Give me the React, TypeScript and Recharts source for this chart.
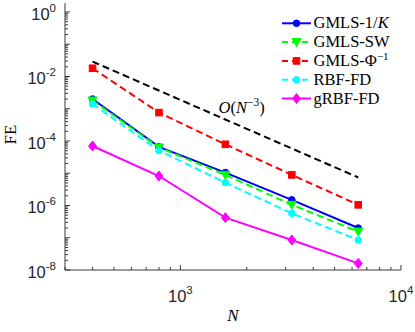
import React from "react";
import {
  LineChart,
  Line,
  XAxis,
  YAxis,
  Legend,
  ReferenceDot,
  Label,
} from "recharts";

// ---- data ----
const N = [400, 800, 1600, 3200, 6400];
const gmlsK = [2.0e-3, 6.6e-5, 1.05e-5, 1.5e-6, 2.0e-7];
const gmlsSW = [1.8e-3, 6.3e-5, 8.9e-6, 1.05e-6, 1.55e-7];
const gmlsPhi = [1.8e-2, 7.6e-4, 7.9e-5, 8.9e-6, 1.05e-6];
const rbfFD = [1.4e-3, 5.0e-5, 5.1e-6, 5.7e-7, 8.5e-8];
const grbfFD = [7.0e-5, 8.2e-6, 4.2e-7, 8.5e-8, 1.6e-8];
const refN = [400, 6400];
const refFE = [2.9e-2, 7.4e-6];

const annotN = 1490;
const annotFE = 7.4e-4;

const xMajorExp = [3, 4];
const xLabelExp = [3, 4];
const yMajorExp = [0, -1, -2, -3, -4, -5, -6, -7, -8];
const yLabelExp = [0, -2, -4, -6, -8];

const xDomain = [300, 10000];
const yDomain = [1e-8, 1.9];

const data = N.map((n, i) => {
  const r = refN.indexOf(n);
  return {
    N: n,
    k: gmlsK[i],
    sw: gmlsSW[i],
    phi: gmlsPhi[i],
    rbf: rbfFD[i],
    grbf: grbfFD[i],
    ref: r >= 0 ? refFE[r] : null,
  };
});

function logTicks(majorExps: number[], lo: number, hi: number) {
  const out: number[] = [];
  const minE = Math.min(...majorExps) - 1;
  const maxE = Math.max(...majorExps);
  for (let e = minE; e <= maxE; e++) {
    for (let m = 1; m <= 9; m++) {
      const v = m * Math.pow(10, e);
      if (v >= lo * 0.9999 && v <= hi * 1.0001) out.push(v);
    }
  }
  return out;
}
const xTicks = logTicks(xMajorExp, xDomain[0], xDomain[1]);
const yTicks = logTicks(yMajorExp, yDomain[0], yDomain[1]);

const AX = "#3a3a3a";
const TICK_FONT = "'Liberation Sans', Arial, Helvetica, sans-serif";
const SERIF = "'Liberation Serif', 'Times New Roman', serif";
const MAJOR = 5;
const MINOR = 3;

function isMajor(v: number) {
  const l = Math.log10(v);
  return Math.abs(l - Math.round(l)) < 1e-6;
}

function makeTick(side: "left" | "right" | "top" | "bottom", labels: number[]) {
  return (props: any) => {
    const { x, y, payload } = props;
    const v = payload.value;
    const maj = isMajor(v);
    const len = maj ? MAJOR : MINOR;
    const e = Math.round(Math.log10(v));
    let line;
    if (side === "left") line = <line x1={x} x2={x + len} y1={y} y2={y} stroke={AX} strokeWidth={1} />;
    else if (side === "right") line = <line x1={x} x2={x - len} y1={y} y2={y} stroke={AX} strokeWidth={1} />;
    else if (side === "bottom") line = <line x1={x} x2={x} y1={y} y2={y - len} stroke={AX} strokeWidth={1} />;
    else line = <line x1={x} x2={x} y1={y} y2={y + len} stroke={AX} strokeWidth={1} />;
    let label = null;
    if (maj && labels.indexOf(e) >= 0) {
      if (side === "left") {
        label = (
          <text x={x - 9} y={y + 8} textAnchor="end" fontFamily={TICK_FONT} fontSize={16.5} fill="#262626">
            <tspan>10</tspan>
            <tspan dy={-8} fontSize={11.5}>{String(e)}</tspan>
          </text>
        );
      } else if (side === "bottom") {
        label = (
          <text x={x} y={y + 32} textAnchor="middle" fontFamily={TICK_FONT} fontSize={16.5} fill="#262626">
            <tspan>10</tspan>
            <tspan dy={-8} fontSize={11.5}>{String(e)}</tspan>
          </text>
        );
      }
    }
    return (
      <g>
        {line}
        {label}
      </g>
    );
  };
}

type MarkerKind = "circle" | "tri" | "square" | "diamond" | "none";

function Marker({ cx, cy, kind, color }: { cx: number; cy: number; kind: MarkerKind; color: string }) {
  if (cx == null || cy == null || isNaN(cx) || isNaN(cy)) return null;
  if (kind === "circle") return <circle cx={cx} cy={cy} r={3.3} fill={color} stroke={color} strokeWidth={1} />;
  if (kind === "tri")
    return (
      <polygon
        points={`${cx - 4.5},${cy - 3.5} ${cx + 4.5},${cy - 3.5} ${cx},${cy + 4.5}`}
        fill={color}
        stroke={color}
        strokeWidth={1}
      />
    );
  if (kind === "square") return <rect x={cx - 3.3} y={cy - 3.3} width={6.6} height={6.6} fill={color} stroke={color} strokeWidth={1} />;
  if (kind === "diamond")
    return (
      <polygon
        points={`${cx},${cy - 5} ${cx + 4},${cy} ${cx},${cy + 5} ${cx - 4},${cy}`}
        fill={color}
        stroke={color}
        strokeWidth={1}
      />
    );
  return null;
}

const series = [
  { key: "k", color: "#0000ff", dash: undefined, marker: "circle" as MarkerKind },
  { key: "sw", color: "#00ff00", dash: "7 4", marker: "tri" as MarkerKind },
  { key: "phi", color: "#ff0000", dash: "7 4", marker: "square" as MarkerKind },
  { key: "rbf", color: "#00ffff", dash: "7 4", marker: "circle" as MarkerKind },
  { key: "grbf", color: "#ff00ff", dash: undefined, marker: "diamond" as MarkerKind },
];

function legendText(key: string) {
  if (key === "k")
    return (
      <>
        <tspan>GMLS-1/</tspan>
        <tspan fontStyle="italic">K</tspan>
      </>
    );
  if (key === "sw") return <tspan>GMLS-SW</tspan>;
  if (key === "phi")
    return (
      <>
        <tspan>GMLS-Φ</tspan>
        <tspan dy={-6} fontSize={11}>−1</tspan>
      </>
    );
  if (key === "rbf") return <tspan>RBF-FD</tspan>;
  return <tspan>gRBF-FD</tspan>;
}

function LegendContent() {
  return (
    <svg width={134} height={100} style={{ display: "block" }}>
      {series.map((s, i) => {
        const y = 11.3 + i * 18.8;
        return (
          <g key={s.key}>
            <line x1={2} x2={31} y1={y} y2={y} stroke={s.color} strokeWidth={2} strokeDasharray={s.dash ? "6 4" : undefined} />
            <Marker cx={16.5} cy={y} kind={s.marker} color={s.color} />
            <text x={33.5} y={y + 5} fontFamily={SERIF} fontSize={16.5} fill="#000">
              {legendText(s.key)}
            </text>
          </g>
        );
      })}
    </svg>
  );
}

export default function App() {
  return (
    <div style={{ position: "absolute", left: 0, top: 0, width: 415, height: 332, background: "#fff" }}>
      <LineChart width={415} height={332} data={data} margin={{ top: 3, right: 14, bottom: 0, left: 0 }}>
        <XAxis
          xAxisId="b"
          dataKey="N"
          type="number"
          scale="log"
          domain={xDomain}
          allowDataOverflow
          ticks={xTicks}
          interval={0}
          tickSize={0}
          tickMargin={0}
          tickLine={false}
          height={62}
          axisLine={{ stroke: AX, strokeWidth: 1 }}
          tick={makeTick("bottom", xLabelExp)}
        >
          <Label
            content={(p: any) => {
              const vb = p.viewBox;
              return (
                <text x={vb.x + vb.width / 2} y={vb.y + 51} textAnchor="middle" fontFamily={SERIF} fontStyle="italic" fontSize={17} fill="#000">
                  N
                </text>
              );
            }}
          />
        </XAxis>
        <XAxis
          xAxisId="t"
          dataKey="N"
          orientation="top"
          type="number"
          scale="log"
          domain={xDomain}
          allowDataOverflow
          ticks={xTicks}
          interval={0}
          tickSize={0}
          tickMargin={0}
          tickLine={false}
          height={0}
          axisLine={{ stroke: AX, strokeWidth: 1 }}
          tick={makeTick("top", [])}
        />
        <YAxis
          yAxisId="l"
          type="number"
          scale="log"
          domain={yDomain}
          allowDataOverflow
          ticks={yTicks}
          interval={0}
          tickSize={0}
          tickMargin={0}
          tickLine={false}
          width={65}
          axisLine={{ stroke: AX, strokeWidth: 1 }}
          tick={makeTick("left", yLabelExp)}
        >
          <Label
            content={(p: any) => {
              const vb = p.viewBox;
              const cx = vb.x + 16;
              const cy = vb.y + vb.height / 2 - 2;
              return (
                <text transform={`translate(${cx},${cy}) rotate(-90)`} textAnchor="middle" fontFamily={SERIF} fontSize={17} fill="#000">
                  FE
                </text>
              );
            }}
          />
        </YAxis>
        <YAxis
          yAxisId="r"
          orientation="right"
          type="number"
          scale="log"
          domain={yDomain}
          allowDataOverflow
          ticks={yTicks}
          interval={0}
          tickSize={0}
          tickMargin={0}
          tickLine={false}
          width={0}
          axisLine={{ stroke: AX, strokeWidth: 1 }}
          tick={makeTick("right", [])}
        />
        {series.map((s) => (
          <Line
            key={s.key}
            xAxisId="b"
            yAxisId="l"
            type="linear"
            dataKey={s.key}
            stroke={s.color}
            strokeWidth={2}
            strokeDasharray={s.dash}
            isAnimationActive={false}
            dot={(p: any) => <Marker key={`${s.key}-${p.index}`} cx={p.cx} cy={p.cy} kind={s.marker} color={s.color} />}
            activeDot={false}
          />
        ))}
        <Line
          xAxisId="b"
          yAxisId="l"
          type="linear"
          dataKey="ref"
          stroke="#000"
          strokeWidth={2}
          strokeDasharray="7 4"
          connectNulls
          dot={false}
          activeDot={false}
          isAnimationActive={false}
        />
        <ReferenceDot
          xAxisId="b"
          yAxisId="l"
          x={annotN}
          y={annotFE}
          r={0}
          ifOverflow="visible"
          shape={(p: any) => (
            <text x={p.cx} y={p.cy} fontFamily={SERIF} fontSize={16.5} fill="#000">
              <tspan fontStyle="italic">O</tspan>
              <tspan>(</tspan>
              <tspan fontStyle="italic">N</tspan>
              <tspan dy={-7} fontSize={11.5}>−3</tspan>
              <tspan dy={7}>)</tspan>
            </text>
          )}
        />
        <Legend
          layout="vertical"
          align="center"
          verticalAlign="middle"
          wrapperStyle={{ position: "absolute", left: 280, top: 12, width: 134, height: 100 }}
          content={() => <LegendContent />}
        />
      </LineChart>
    </div>
  );
}
